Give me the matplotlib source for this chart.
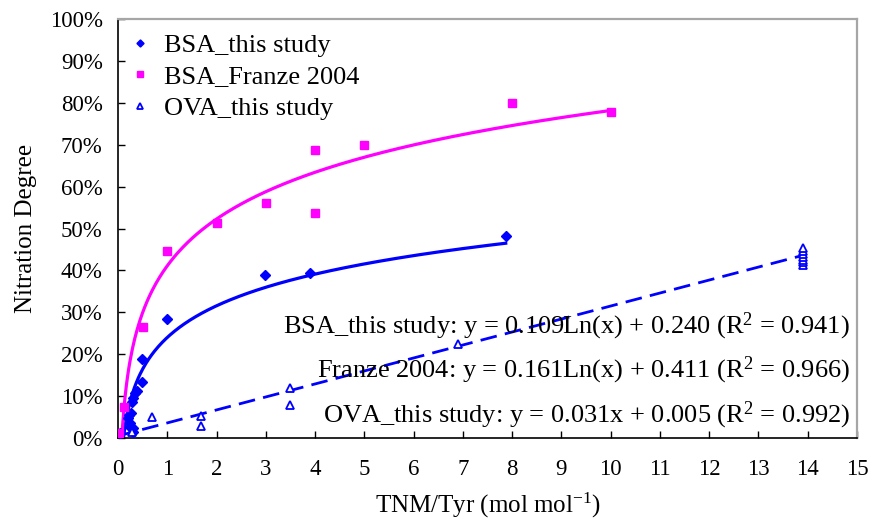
import numpy as np
import matplotlib
matplotlib.use("Agg")
import matplotlib.pyplot as plt

plt.rcParams['font.family'] = ['Liberation Serif', 'DejaVu Serif']
plt.rcParams['mathtext.fontset'] = 'custom'
plt.rcParams['mathtext.rm'] = 'Liberation Serif'
plt.rcParams['mathtext.it'] = 'Liberation Serif:italic'

# BSA nitration, this study
bsa_x = [0.04, 0.21, 0.23, 0.24, 0.24, 0.27, 0.28, 0.30, 0.30, 0.31, 0.34, 0.38,
         0.48, 0.48, 0.99, 2.98, 3.9, 7.87]
bsa_y = [1.2, 4.7, 5.5, 2.7, 3.5, 5.9, 8.7, 2.4, 1.5, 9.5, 10.7, 11.3,
         13.4, 18.8, 28.4, 38.9, 39.4, 48.2]

# BSA nitration, Franze 2004
franze_x = [0.03, 0.125, 0.5, 1.0, 2.0, 3.0, 4.0, 4.0, 5.0, 8.0, 10.0]
franze_y = [1.1, 7.5, 26.6, 44.7, 51.4, 56.2, 68.7, 53.6, 70.0, 80.0, 77.8]

# OVA nitration, this study
ova_x = [0.28, 0.69, 1.68, 1.68, 3.49, 3.49, 6.9,
         13.9, 13.9, 13.9, 13.9, 13.9, 13.9, 13.9]
ova_y = [1.5, 5.0, 5.3, 2.9, 11.9, 7.8, 22.4,
         41.2, 41.9, 42.6, 43.3, 44.0, 44.7, 45.4]

# fitted trend parameters
bsa_fit = (0.109, 0.240)
franze_fit = (0.161, 0.411)
ova_fit = (0.031, 0.005)

eq_labels = [
    "BSA_this study: y = 0.109Ln(x) + 0.240 (R$^2$ = 0.941)",
    "Franze 2004: y = 0.161Ln(x) + 0.411 (R$^2$ = 0.966)",
    "OVA_this study: y = 0.031x + 0.005 (R$^2$ = 0.992)",
]

BLUE = '#0000ff'
PINK = '#ff00ff'

fig = plt.figure(figsize=(8.69, 5.22), dpi=100)
ax = fig.add_axes([0.1358, 0.1609, 0.8504, 0.8027])

# trend lines
xb = np.linspace(0.10, max(bsa_x), 400)
ax.plot(xb, 100 * (bsa_fit[0] * np.log(xb) + bsa_fit[1]), color=BLUE, lw=2.3, zorder=2)
xf = np.linspace(0.07, max(franze_x), 400)
ax.plot(xf, 100 * (franze_fit[0] * np.log(xf) + franze_fit[1]), color=PINK, lw=2.3, zorder=2)
xo = np.linspace(0.0, max(ova_x), 10)
ax.plot(xo, 100 * (ova_fit[0] * xo + ova_fit[1]), color=BLUE, lw=2.0,
        dashes=(6, 3), zorder=2)

# data points
ax.plot(bsa_x, bsa_y, 'D', color=BLUE, ms=4.8, mec=BLUE, ls='none',
        label='BSA_this study', zorder=3)
ax.plot(franze_x, franze_y, 's', color=PINK, ms=5.8, mec=PINK, ls='none',
        label='BSA_Franze 2004', zorder=3)
ax.plot(ova_x, ova_y, '^', mfc='white', mec=BLUE, mew=1.3, ms=6, ls='none',
        label='OVA_this study', zorder=3)

ax.set_xlim(0, 15)
ax.set_ylim(0, 100)
ax.set_xticks(range(0, 16))
ax.set_yticks(range(0, 101, 10))
ax.set_yticklabels([f"{v}%" for v in range(0, 101, 10)])
ax.tick_params(axis='both', direction='in', length=5, width=1, labelsize=16.5,
               colors='black')
ax.tick_params(axis='x', pad=15)
ax.tick_params(axis='y', pad=11)

for side in ('left', 'bottom'):
    ax.spines[side].set_color('black')
    ax.spines[side].set_linewidth(1.2)
for side in ('top', 'right'):
    ax.spines[side].set_color('#a6a6a6')
    ax.spines[side].set_linewidth(1.6)

ax.set_xlabel("TNM/Tyr (mol mol$^{-1}$)", fontsize=18, labelpad=8)
ax.set_ylabel("Nitration Degree", fontsize=18, labelpad=9)

leg = ax.legend(loc='upper left', bbox_to_anchor=(0.0, 1.0), frameon=False,
                fontsize=19, handlelength=0.6, handletextpad=0.6,
                borderaxespad=0.15, labelspacing=0.3, markerscale=0.75)

eq_y = [26.7, 16.2, 5.5]
for txt, yy in zip(eq_labels, eq_y):
    ax.text(14.86, yy, txt, ha='right', va='center', fontsize=19, zorder=4)

fig.savefig("out.png", dpi=100)
